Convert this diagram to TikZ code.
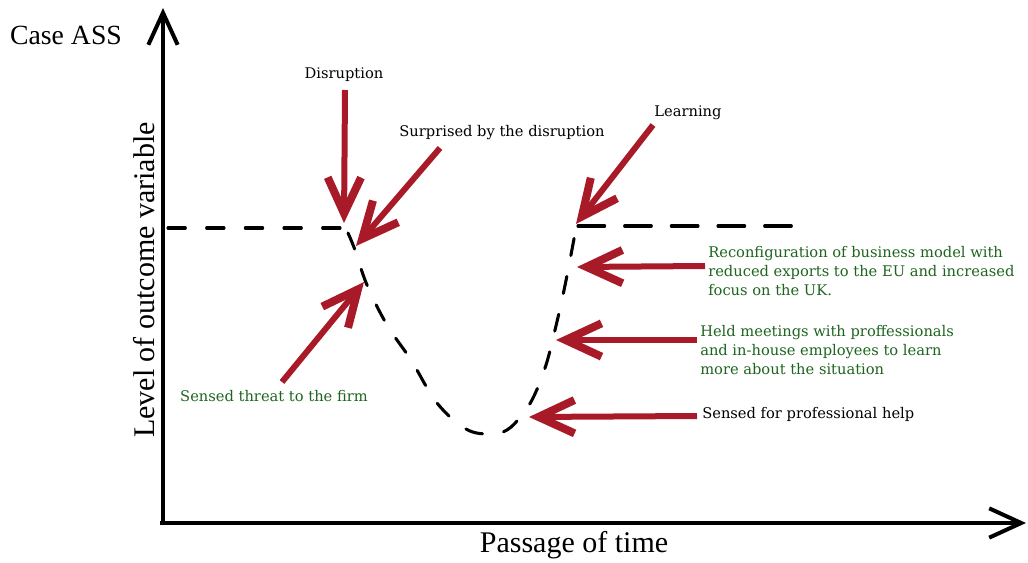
\documentclass[tikz,border=0pt]{standalone}
\usepackage{fontspec}
\setmainfont{Liberation Serif}
\newfontfamily\labelfont{DejaVu Serif}
\usetikzlibrary{arrows.meta}
\definecolor{arrred}{RGB}{168,26,40}
\definecolor{lblgreen}{RGB}{30,100,30}
\begin{document}
\begin{tikzpicture}[x=0.75pt,y=-0.75pt,
  axisline/.style={line width=3pt,-{Straight Barb[length=24pt,width=22pt,line width=3pt,sharp]}},
  redarrow/.style={arrred,line width=4.5pt,-{Straight Barb[length=27pt,width=25pt,line width=6pt,sharp]}},
  dashA/.style={line width=2.3pt,line cap=round,dash pattern=on 13pt off 16pt},
  dashB/.style={line width=2.3pt,line cap=round,dash pattern=on 20pt off 15pt},
  lbl/.style={font=\labelfont\fontsize{11}{14}\selectfont,inner sep=0pt,align=left},
  glbl/.style={lbl,text=lblgreen},
  axlabel/.style={font=\fontsize{22.5}{26}\selectfont,inner sep=0pt},
  casefont/.style={font=\fontsize{20.8}{24}\selectfont,inner sep=0pt}]
\useasboundingbox (0,0) rectangle (1028,563);
% axes
\coordinate (O) at (163,525);
\coordinate (ytop) at (163,8);
\coordinate (xstart) at (160,523);
\coordinate (xend) at (1026,523);
\draw[axisline] (O) -- (ytop);
\draw[axisline] (xstart) -- (xend);
% labels
\node[casefont] (case) at (66,35) {Case ASS};
\node[axlabel] (time) at (574,545) {Passage of time};
\node[axlabel,rotate=90] (level) at (144,280) {Level of outcome variable};
% dashed outcome line
\draw[dashA] (168,228) -- (348,228);
\draw[dashA] plot[smooth,tension=0.6] coordinates {(348,233) (355,250) (367,285) (387,325) (411,360) (437,403) (466,429) (490,434) (507,430) (522,415) (534,396) (546,365) (555,330) (563,295) (570,260) (576,228)};
\draw[dashB] (578,226) -- (806,226);
% text labels
\node[lbl] (disr) at (344,75) {Disruption};
\node[lbl] (surp) at (502,133) {Surprised by the disruption};
\node[lbl] (learn) at (688,113) {Learning};
\node[glbl,anchor=west] (reconf) at (708,271) {Reconfiguration of business model with\\reduced exports to the EU and increased\\focus on the UK.};
\node[glbl,anchor=west] (held) at (700,350) {Held meetings with proffessionals\\and in-house employees to learn\\more about the situation};
\node[lbl,anchor=west] (sensed) at (702,414) {Sensed for professional help};
\node[glbl] (threat) at (274,396) {Sensed threat to the firm};
% arrow endpoints
\coordinate (t1) at (345,90);   \coordinate (h1) at (344,223);
\coordinate (t2) at (440,148);  \coordinate (h2) at (356,246);
\coordinate (t3) at (653,125);  \coordinate (h3) at (576,224);
\coordinate (t4) at (705,266);  \coordinate (h4) at (577,267);
\coordinate (t5) at (697,340);  \coordinate (h5) at (556,340);
\coordinate (t6) at (697,416);  \coordinate (h6) at (529,417);
\coordinate (t7) at (282,382);  \coordinate (h7) at (364,282);
\foreach \i in {1,...,7} {\draw[redarrow] (t\i) -- (h\i);}
\end{tikzpicture}
\end{document}
